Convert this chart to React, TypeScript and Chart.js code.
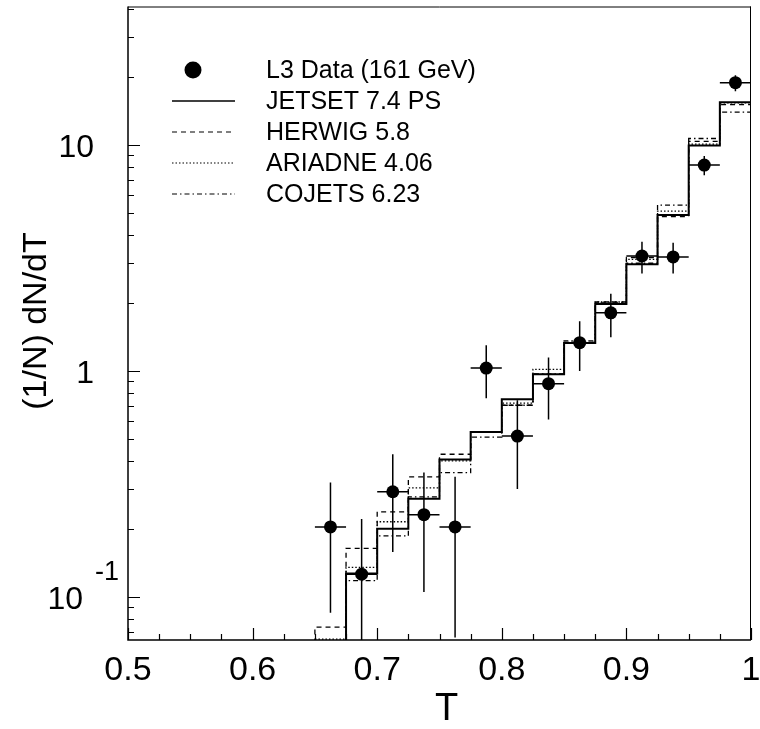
import React, { useEffect, useRef } from 'react';
import { Chart, registerables } from 'chart.js';
Chart.register(...registerables);

// ---- data ----
const binLow = [0.65, 0.675, 0.7, 0.725, 0.75, 0.775, 0.8, 0.825, 0.85, 0.875, 0.9, 0.925, 0.95, 0.975];
const binTop = 1.0;
const dataT = [0.6625, 0.6875, 0.7125, 0.7375, 0.7625, 0.7875, 0.8125, 0.8375, 0.8625, 0.8875, 0.9125, 0.9375, 0.9625, 0.9875];
const dataVal = [0.204, 0.126, 0.292, 0.231, 0.204, 1.03, 0.515, 0.879, 1.334, 1.81, 3.23, 3.2, 8.16, 18.9];
const dataUp = [0.321, 0.221, 0.428, 0.355, 0.34, 1.30, 0.742, 1.146, 1.66, 2.2, 3.73, 3.7, 8.95, 20.4];
const dataDown = [0.085, 0.03, 0.158, 0.105, 0.066, 0.757, 0.30, 0.61, 1.0, 1.41, 2.7, 2.7, 7.35, 17.3];
const jetset = [null, 0.127, 0.2, 0.272, 0.406, 0.537, 0.75, 0.967, 1.33, 1.98, 2.97, 4.9, 9.97, 15.5];
const herwig = [0.0734, 0.164, 0.238, 0.34, 0.428, 0.535, 0.705, 0.967, 1.34, 2.02, 3.18, 4.83, 10.4, 15.1];
const ariadne = [0.065, 0.135, 0.215, 0.304, 0.40, 0.535, 0.72, 1.017, 1.34, 2.02, 3.12, 5.1, 10.1, 15.4];
const cojets = [null, 0.118, 0.186, 0.277, 0.355, 0.51, 0.705, 0.97, 1.36, 2.0, 3.0, 5.43, 10.7, 14.0];
const xTickValues = [0.5, 0.6, 0.7, 0.8, 0.9, 1.0];
const xTickLabels = ['0.5', '0.6', '0.7', '0.8', '0.9', '1'];
const yTickValues = [0.1, 1, 10];
const yTickBase = ['10', '1', '10'];
const yTickExp = ['-1', '', ''];
const legendLabels = ['L3 Data (161 GeV)', 'JETSET 7.4 PS', 'HERWIG 5.8', 'ARIADNE 4.06', 'COJETS 6.23'];
const xTitle = 'T';
const yTitle = '(1/N) dN/dT';

const FONT = '"Liberation Sans", Arial, Helvetica, sans-serif';
const FLOOR = 0.001;
const Y_MIN = 0.0644;
const Y_MAX = 41.1;

const styles = [
  { width: 2, dash: [] as number[] },
  { width: 1.3, dash: [5, 4] },
  { width: 1.3, dash: [1.5, 2] },
  { width: 1.3, dash: [5, 3, 1.5, 3] },
];

function stepPoints(vals: (number | null)[]) {
  const pts: { x: number; y: number }[] = [];
  let last = 0;
  let started = false;
  vals.forEach((v, i) => {
    if (v == null) return;
    if (!started) {
      pts.push({ x: binLow[i], y: FLOOR });
      started = true;
    }
    pts.push({ x: binLow[i], y: v });
    last = v;
  });
  pts.push({ x: binTop, y: last });
  pts.push({ x: binTop, y: FLOOR });
  return pts;
}

const decorPlugin = {
  id: 'decor',
  beforeDatasetsDraw(chart: any) {
    const { ctx, chartArea: a } = chart;
    const x = chart.scales.x;
    const y = chart.scales.y;
    const halfW = (binLow[1] - binLow[0]) / 2;
    ctx.save();
    ctx.beginPath();
    ctx.rect(a.left, a.top, a.right - a.left, a.bottom - a.top);
    ctx.clip();
    ctx.strokeStyle = '#000';
    ctx.lineWidth = 1.5;
    for (let i = 0; i < dataT.length; i++) {
      const px = x.getPixelForValue(dataT[i]);
      const py = y.getPixelForValue(dataVal[i]);
      ctx.beginPath();
      ctx.moveTo(x.getPixelForValue(dataT[i] - halfW), py);
      ctx.lineTo(x.getPixelForValue(dataT[i] + halfW), py);
      ctx.moveTo(px, y.getPixelForValue(dataUp[i]));
      ctx.lineTo(px, y.getPixelForValue(dataDown[i]));
      ctx.stroke();
    }
    ctx.restore();
  },
  afterDraw(chart: any) {
    const { ctx, chartArea: a } = chart;
    const x = chart.scales.x;
    const y = chart.scales.y;
    ctx.save();
    ctx.strokeStyle = '#000';
    ctx.setLineDash([]);
    // frame
    ctx.lineWidth = 1;
    ctx.beginPath();
    ctx.moveTo(a.left, a.top + 0.5);
    ctx.lineTo(a.right, a.top + 0.5);
    ctx.moveTo(a.right - 0.5, a.top);
    ctx.lineTo(a.right - 0.5, a.bottom);
    ctx.stroke();
    ctx.lineWidth = 1.5;
    ctx.beginPath();
    ctx.moveTo(a.left, a.top);
    ctx.lineTo(a.left, a.bottom);
    ctx.lineTo(a.right, a.bottom);
    ctx.stroke();
    // x ticks
    ctx.lineWidth = 1.2;
    ctx.beginPath();
    for (let k = 0; k <= 20; k++) {
      const v = 0.5 + k * 0.025;
      const px = Math.round(x.getPixelForValue(v)) + 0.5;
      const len = k % 4 === 0 ? 12 : 6;
      ctx.moveTo(px, a.bottom);
      ctx.lineTo(px, a.bottom - len);
    }
    // y ticks
    for (let e = -2; e <= 1; e++) {
      for (let m = 1; m <= 9; m++) {
        const v = m * Math.pow(10, e);
        if (v < Y_MIN || v > Y_MAX) continue;
        const py = Math.round(y.getPixelForValue(v)) + 0.5;
        const len = m === 1 ? 12 : 6;
        ctx.moveTo(a.left, py);
        ctx.lineTo(a.left + len, py);
      }
    }
    ctx.stroke();
    // x tick labels
    ctx.fillStyle = '#000';
    ctx.font = `34px ${FONT}`;
    ctx.textAlign = 'center';
    ctx.textBaseline = 'alphabetic';
    xTickValues.forEach((v, i) => {
      ctx.fillText(xTickLabels[i], x.getPixelForValue(v), a.bottom + 40);
    });
    // y tick labels
    yTickValues.forEach((v, i) => {
      const py = y.getPixelForValue(v);
      ctx.font = `32px ${FONT}`;
      ctx.textAlign = 'right';
      if (yTickExp[i]) {
        ctx.fillText(yTickBase[i], 83, py + 12);
        ctx.font = `27px ${FONT}`;
        ctx.textAlign = 'left';
        ctx.fillText(yTickExp[i], 95, py - 17);
      } else {
        ctx.fillText(yTickBase[i], 94, py + 12);
      }
    });
    // titles
    ctx.font = `38px ${FONT}`;
    ctx.textAlign = 'center';
    ctx.fillText(xTitle, 446.5, 720);
    ctx.save();
    ctx.translate(46, 321);
    ctx.rotate(-Math.PI / 2);
    ctx.font = `34px ${FONT}`;
    ctx.fillText(yTitle, 0, 0);
    ctx.restore();
    // legend
    const lx0 = 172, lx1 = 235, tx = 266, ly0 = 70, dy = 31;
    ctx.beginPath();
    ctx.arc(193, ly0, 8.5, 0, Math.PI * 2);
    ctx.fill();
    ctx.font = `25px ${FONT}`;
    ctx.textAlign = 'left';
    ctx.textBaseline = 'middle';
    legendLabels.forEach((t, i) => {
      const ly = ly0 + i * dy;
      if (i > 0) {
        const s = styles[i - 1];
        ctx.lineWidth = s.width === 2 ? 1.5 : 1.1;
        ctx.setLineDash(s.dash);
        ctx.beginPath();
        ctx.moveTo(lx0, ly);
        ctx.lineTo(lx1, ly);
        ctx.stroke();
        ctx.setLineDash([]);
      }
      ctx.fillText(t, tx, ly + 1);
    });
    ctx.restore();
  },
};

export default function App() {
  const ref = useRef<HTMLCanvasElement | null>(null);
  useEffect(() => {
    if (!ref.current) return;
    const models = [jetset, herwig, ariadne, cojets];
    const datasets: any[] = [
      {
        label: legendLabels[0],
        data: dataT.map((t, i) => ({ x: t, y: dataVal[i] })),
        showLine: false,
        pointRadius: 6.5,
        pointHoverRadius: 6.5,
        pointBackgroundColor: '#000',
        pointBorderWidth: 0,
        borderColor: '#000',
      },
      ...models.map((m, i) => ({
        label: legendLabels[i + 1],
        data: stepPoints(m),
        stepped: true,
        borderColor: '#000',
        borderWidth: styles[i].width,
        borderDash: styles[i].dash,
        pointRadius: 0,
        fill: false,
        tension: 0,
      })),
    ];
    const chart = new Chart(ref.current, {
      type: 'line',
      data: { datasets },
      options: {
        animation: false,
        responsive: false,
        events: [],
        layout: { padding: { left: 128, right: 9, top: 5, bottom: 89 } },
        plugins: { legend: { display: false }, tooltip: { enabled: false } },
        scales: {
          x: { type: 'linear', min: 0.5, max: 1.0, display: false },
          y: { type: 'logarithmic', min: Y_MIN, max: Y_MAX, display: false, bounds: 'data' },
        },
      },
      plugins: [decorPlugin],
    });
    return () => chart.destroy();
  }, []);
  return (
    <div style={{ position: 'absolute', left: 0, top: 0, width: 760, height: 729, background: '#fff' }}>
      <canvas ref={ref} width={760} height={729} style={{ display: 'block' }} />
    </div>
  );
}
